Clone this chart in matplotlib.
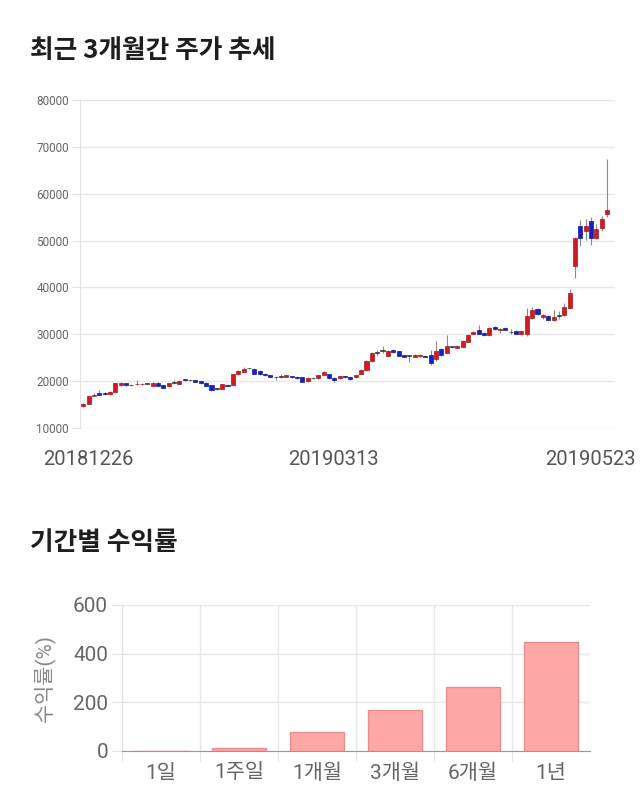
import numpy as np
import matplotlib
matplotlib.use("Agg")
import matplotlib.pyplot as plt
from matplotlib import transforms

plt.rcParams['font.family'] = ['Roboto', 'Noto Sans CJK KR', 'DejaVu Sans']

# 일봉 데이터 (20181226 ~ 20190523), 그림에서 읽은 값
opens = [14600, 15200, 16900, 17400, 17500, 17200, 17700, 19100, 19600, 19100,
         19300, 19300, 19400, 19000, 19700, 19100, 18900, 19600, 19400, 20400,
         20200, 20200, 20000, 19700, 19100, 18400, 18400, 19200, 19100, 21600,
         22000, 22700, 22500, 22200, 21600, 21300, 20800, 20900, 20900, 21100,
         20900, 20800, 20000, 20600, 20600, 21400, 21500, 20700, 20600, 21100,
         20800, 20800, 21600, 22300, 24300, 26100, 26400, 25400, 26700, 26400,
         25500, 25400, 25200, 25300, 25400, 25600, 24800, 26800, 25900, 27300,
         27100, 27300, 28400, 30100, 31000, 30300, 29800, 31600, 30900, 31400,
         30400, 30700, 30000, 30000, 33400, 35400, 33600, 33900, 33000, 33900,
         34100, 35700, 44600, 53200, 52000, 54100, 50600, 52700, 55700]
highs = [15300, 16900, 17400, 18200, 17700, 17800, 19600, 19800, 19700, 19300,
         20200, 19600, 19600, 19800, 19800, 19200, 19700, 20200, 20300, 20500,
         20500, 20300, 20100, 19800, 19200, 18600, 19400, 19400, 21600, 22300,
         23100, 22900, 22700, 22300, 21700, 21400, 21100, 21600, 21400, 21200,
         21000, 20900, 20800, 20900, 21400, 22200, 21600, 20800, 21200, 21200,
         20900, 21400, 22500, 24500, 26200, 26700, 27400, 26600, 26800, 26500,
         25600, 25500, 25700, 25700, 25500, 26700, 28600, 27000, 29800, 27500,
         27700, 28800, 30000, 30700, 32000, 30500, 31600, 31700, 31400, 31600,
         31200, 30900, 30800, 35700, 35800, 35700, 34300, 34200, 35100, 34900,
         36700, 39700, 50700, 54300, 54700, 55000, 53500, 55300, 67500]
lows = [14500, 15100, 16800, 17000, 17100, 17100, 17600, 19000, 19000, 19000,
        19200, 19200, 19300, 18900, 18900, 18500, 18800, 19400, 19300, 20100,
        20000, 19800, 19400, 18900, 18000, 18200, 18300, 18900, 19000, 21400,
        21900, 22500, 21500, 21400, 21200, 20800, 20300, 20700, 20800, 20700,
        20500, 19800, 19900, 20400, 20500, 21300, 20500, 19900, 20500, 20700,
        20300, 20700, 21500, 22200, 24100, 25600, 26000, 25300, 26100, 25300,
        25100, 24000, 25100, 25200, 25100, 23400, 24400, 25400, 25900, 27100,
        27000, 27200, 28300, 30000, 30000, 29700, 29700, 31000, 30200, 30900,
        30000, 30000, 29900, 29600, 33200, 34100, 33200, 32800, 32900, 33200,
        33800, 35300, 42100, 48900, 50100, 49100, 50400, 52000, 55100]
closes = [15200, 16800, 17000, 17100, 17200, 17700, 19500, 19700, 19100, 19100,
          19400, 19400, 19400, 19700, 19000, 18600, 19600, 19600, 20000, 20200,
          20200, 19900, 19500, 19000, 18200, 18400, 19300, 19000, 21500, 22100,
          22500, 22700, 21600, 21600, 21300, 20900, 20800, 20900, 21300, 20800,
          20600, 19900, 20700, 20600, 21300, 22000, 20600, 20200, 21100, 20800,
          20400, 21300, 22400, 24300, 26000, 26100, 26400, 26400, 26200, 25400,
          25200, 25400, 25600, 25600, 25200, 23900, 26400, 25600, 27400, 27300,
          27500, 28600, 29800, 30500, 30100, 29800, 31400, 31100, 31200, 31000,
          30400, 30100, 30700, 33900, 35100, 34300, 34100, 33000, 33600, 33900,
          35900, 38900, 50600, 50600, 53200, 50600, 52400, 54600, 56600]
date_labels = ['20181226', '20190313', '20190523']
date_idx = [0, 49, 98]

# 기간별 수익률
periods = ['1일', '1주일', '1개월', '3개월', '6개월', '1년']
returns = [0.8, 11, 78, 170, 264, 448]

fig = plt.figure(figsize=(6.4, 8.1), dpi=100)

fig.text(30 / 640, 1 - 50 / 810, '최근 3개월간 주가 추세', fontsize=18.5, fontweight='bold',
         family='Noto Sans CJK KR', va='center', color='#1e1e1e')
fig.text(30 / 640, 1 - 543 / 810, '기간별 수익률', fontsize=18.5, fontweight='bold',
         family='Noto Sans CJK KR', va='center', color='#1e1e1e')

# ---- 캔들 차트 ----
ax1 = fig.add_axes([80 / 640, 1 - 428 / 810, 535 / 640, 328 / 810])
o = np.array(opens)
h = np.array(highs)
l = np.array(lows)
c = np.array(closes)
x = np.arange(len(o))

up = c > o
down = c < o
face = np.where(up, '#d21a22', np.where(down, '#1820c8', '#444444'))
edge = np.where(up, '#a8141a', np.where(down, '#10168f', '#333333'))
body_h = np.maximum(np.abs(c - o), 150)
body_b = np.minimum(o, c)

ax1.vlines(x, l, h, color='#8a8a8a', lw=0.8, zorder=2)
ax1.bar(x, body_h, bottom=body_b, width=0.76, color=face, edgecolor=edge, lw=0.5, zorder=3)

ax1.set_xlim(-0.6, 99.5)
ax1.set_ylim(10000, 80000)
ax1.set_yticks(range(10000, 80001, 10000))
ax1.grid(axis='y', color='#e8e8e8', lw=1, zorder=0)
ax1.tick_params(axis='y', length=6, color='#e2e2e2', labelsize=8.5, labelcolor='#666666', pad=2)
for s in ['top', 'right', 'bottom']:
    ax1.spines[s].set_visible(False)
ax1.spines['left'].set_color('#e2e2e2')

ax1.set_xticks(date_idx)
ax1.set_xticklabels(date_labels)
ax1.tick_params(axis='x', length=0, labelsize=14.5, labelcolor='#555555', pad=16)
# 라벨 위치 보정 (px)
shifts = [5, -12, -17]
for lab, dx in zip(ax1.get_xticklabels(), shifts):
    lab.set_transform(lab.get_transform() + transforms.ScaledTranslation(dx / 100, 0, fig.dpi_scale_trans))

# ---- 수익률 막대 ----
ax2 = fig.add_axes([122 / 640, 1 - 751 / 810, 468 / 640, 146 / 810])
xb = np.arange(len(periods))
ax2.bar(xb, returns, width=0.7, color='#ffa7a7', edgecolor='#e58f8f', lw=1, zorder=3)
ax2.set_xlim(-0.5, 5.5)
ax2.set_ylim(0, 600)
ax2.set_yticks([0, 200, 400, 600])
ax2.set_xticks(xb)
ax2.set_xticklabels(periods)
ax2.set_xticks(np.arange(-0.5, 5.5, 1), minor=True)
ax2.grid(axis='y', color='#e8e8e8', lw=1, zorder=0)
ax2.grid(axis='x', which='minor', color='#e8e8e8', lw=1, zorder=0)
ax2.tick_params(axis='x', which='major', length=0, labelsize=15, labelcolor='#666666', pad=9)
ax2.tick_params(axis='x', which='minor', length=8, color='#e2e2e2')
ax2.tick_params(axis='y', length=7, color='#e2e2e2', labelsize=15, labelcolor='#666666', pad=3)
for s in ['top', 'right']:
    ax2.spines[s].set_visible(False)
ax2.spines['left'].set_color('#e2e2e2')
ax2.spines['bottom'].set_color('#999999')
ax2.set_ylabel('수익률(%)', fontsize=15, color='#888888', labelpad=13)

fig.savefig('out.png', dpi=100)
